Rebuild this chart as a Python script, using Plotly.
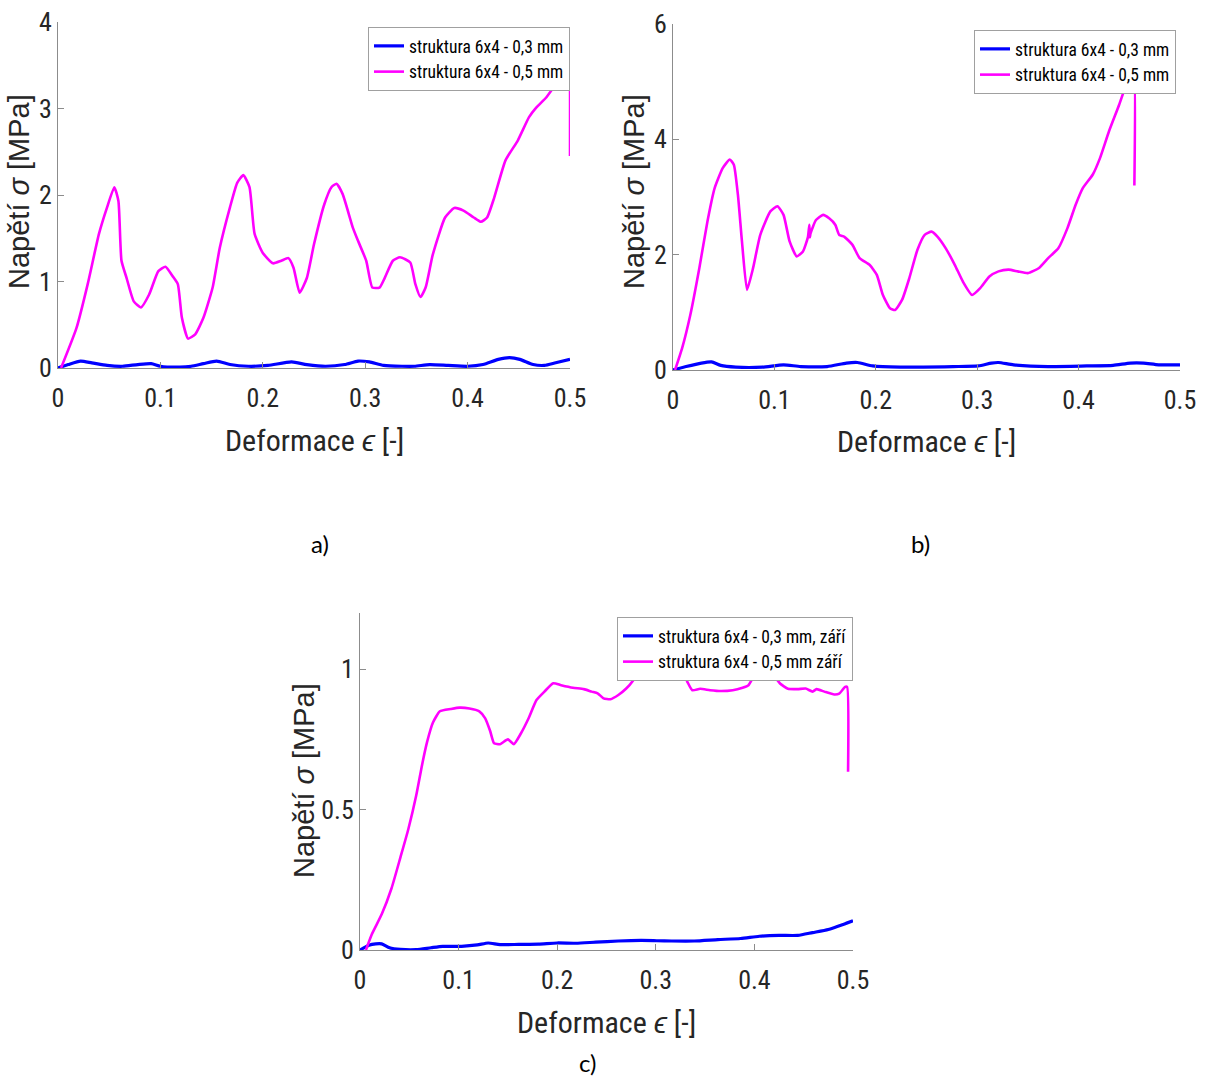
import plotly.graph_objects as go

# ---- panel a) ----
a_x_03 = [0, 0.01, 0.022, 0.033, 0.048, 0.063, 0.078, 0.091, 0.100, 0.119, 0.130, 0.142, 0.155, 0.168,
          0.186, 0.205, 0.228, 0.243, 0.261, 0.280, 0.293, 0.304, 0.318, 0.336, 0.348, 0.363, 0.381,
          0.400, 0.415, 0.430, 0.441, 0.451, 0.464, 0.475, 0.486, 0.5]
a_y_03 = [0, 0.04, 0.08, 0.06, 0.03, 0.02, 0.04, 0.05, 0.02, 0.01, 0.02, 0.05, 0.08, 0.04,
          0.02, 0.03, 0.07, 0.04, 0.02, 0.04, 0.08, 0.07, 0.03, 0.02, 0.02, 0.04, 0.03,
          0.02, 0.04, 0.10, 0.12, 0.10, 0.04, 0.03, 0.06, 0.10]
a_x_05 = [0.003, 0.018, 0.029, 0.040, 0.048, 0.055, 0.059, 0.062, 0.067, 0.074, 0.081, 0.089, 0.098,
          0.105, 0.112, 0.117, 0.121, 0.127, 0.134, 0.142, 0.151, 0.158, 0.168, 0.175, 0.181, 0.187,
          0.192, 0.200, 0.210, 0.218, 0.225, 0.230, 0.236, 0.243, 0.250, 0.260, 0.267, 0.272, 0.278,
          0.288, 0.293, 0.301, 0.307, 0.314, 0.319, 0.327, 0.334, 0.344, 0.349, 0.354, 0.359, 0.366,
          0.378, 0.387, 0.396, 0.406, 0.413, 0.419, 0.426, 0.437, 0.449, 0.460, 0.467, 0.477, 0.486,
          0.494, 0.498, 0.4995, 0.5]
a_y_05 = [0, 0.46, 0.97, 1.55, 1.86, 2.09, 1.93, 1.24, 1.04, 0.77, 0.70, 0.85, 1.12,
          1.17, 1.06, 0.97, 0.58, 0.34, 0.39, 0.58, 0.93, 1.39, 1.86, 2.14, 2.23, 2.09,
          1.55, 1.33, 1.21, 1.24, 1.27, 1.16, 0.87, 1.04, 1.43, 1.89, 2.09, 2.13, 2.01,
          1.62, 1.47, 1.24, 0.93, 0.93, 1.04, 1.24, 1.28, 1.22, 0.97, 0.82, 0.93, 1.31,
          1.74, 1.85, 1.82, 1.74, 1.69, 1.74, 1.97, 2.40, 2.63, 2.90, 3.01, 3.13, 3.29,
          3.50, 3.75, 3.85, 2.45]

# ---- panel b) ----
b_x_03 = [0, 0.013, 0.028, 0.038, 0.047, 0.062, 0.088, 0.109, 0.126, 0.152, 0.171, 0.182, 0.197,
          0.224, 0.276, 0.301, 0.314, 0.321, 0.336, 0.370, 0.408, 0.434, 0.451, 0.464, 0.479, 0.5]
b_y_03 = [0, 0.06, 0.12, 0.14, 0.08, 0.05, 0.05, 0.09, 0.06, 0.06, 0.12, 0.13, 0.07,
          0.05, 0.06, 0.07, 0.12, 0.13, 0.09, 0.06, 0.07, 0.08, 0.12, 0.12, 0.09, 0.09]
b_x_05 = [0.002, 0.009, 0.017, 0.026, 0.034, 0.041, 0.049, 0.056, 0.060, 0.064, 0.068, 0.073, 0.079,
          0.086, 0.096, 0.103, 0.109, 0.115, 0.122, 0.128, 0.133, 0.1345, 0.135, 0.1355, 0.141, 0.148,
          0.154, 0.160, 0.164, 0.169, 0.177, 0.184, 0.194, 0.201, 0.207, 0.214, 0.219, 0.226, 0.233,
          0.241, 0.248, 0.255, 0.261, 0.269, 0.278, 0.286, 0.295, 0.303, 0.312, 0.321, 0.331, 0.340,
          0.350, 0.361, 0.370, 0.380, 0.389, 0.397, 0.404, 0.414, 0.421, 0.430, 0.440, 0.447, 0.452,
          0.4545, 0.455]
b_y_05 = [0, 0.38, 0.95, 1.77, 2.58, 3.15, 3.50, 3.65, 3.56, 3.04, 2.23, 1.39, 1.77,
          2.34, 2.75, 2.84, 2.69, 2.23, 1.97, 2.05, 2.30, 2.52, 2.30, 2.36, 2.60, 2.69,
          2.63, 2.52, 2.34, 2.31, 2.17, 1.94, 1.82, 1.65, 1.30, 1.07, 1.04, 1.22, 1.59,
          2.08, 2.34, 2.40, 2.31, 2.11, 1.82, 1.53, 1.30, 1.42, 1.62, 1.71, 1.74, 1.71,
          1.68, 1.77, 1.94, 2.11, 2.46, 2.86, 3.15, 3.39, 3.67, 4.14, 4.60, 4.95, 5.15,
          5.20, 3.20]

# ---- panel c) ----
c_x_03 = [0, 0.009, 0.016, 0.022, 0.030, 0.041, 0.057, 0.072, 0.084, 0.103, 0.119, 0.130, 0.142,
          0.161, 0.181, 0.200, 0.219, 0.239, 0.262, 0.285, 0.301, 0.316, 0.339, 0.363, 0.386,
          0.405, 0.425, 0.444, 0.459, 0.475, 0.490, 0.5]
c_y_03 = [0, 0.017, 0.022, 0.022, 0.008, 0.002, 0.001, 0.008, 0.013, 0.013, 0.018, 0.025, 0.019,
          0.020, 0.021, 0.025, 0.024, 0.028, 0.032, 0.034, 0.033, 0.032, 0.032, 0.037, 0.041,
          0.049, 0.052, 0.052, 0.062, 0.073, 0.091, 0.104]
c_x_05 = [0.006, 0.012, 0.022, 0.032, 0.041, 0.049, 0.057, 0.063, 0.068, 0.074, 0.081, 0.092, 0.101,
          0.111, 0.121, 0.127, 0.132, 0.136, 0.142, 0.150, 0.156, 0.163, 0.171, 0.179, 0.187, 0.196,
          0.204, 0.216, 0.227, 0.235, 0.241, 0.247, 0.254, 0.262, 0.270, 0.277, 0.283, 0.292, 0.303,
          0.315, 0.328, 0.332, 0.337, 0.345, 0.355, 0.366, 0.378, 0.388, 0.394, 0.399, 0.407, 0.414,
          0.419, 0.426, 0.434, 0.444, 0.452, 0.459, 0.463, 0.471, 0.481, 0.486, 0.492, 0.494, 0.495]
c_y_05 = [0, 0.056, 0.127, 0.22, 0.33, 0.43, 0.55, 0.66, 0.74, 0.81, 0.85, 0.858, 0.863,
          0.86, 0.85, 0.825, 0.78, 0.736, 0.733, 0.75, 0.733, 0.77, 0.825, 0.89, 0.92, 0.95,
          0.943, 0.934, 0.929, 0.92, 0.914, 0.896, 0.893, 0.908, 0.931, 0.96, 0.996, 1.03, 1.05,
          1.04, 0.985, 0.955, 0.925, 0.93, 0.925, 0.922, 0.925, 0.934, 0.943, 0.973, 1.02, 1.03,
          0.985, 0.949, 0.93, 0.929, 0.931, 0.92, 0.929, 0.92, 0.91, 0.913, 0.937, 0.937, 0.635]

x_ticks = [0, 0.1, 0.2, 0.3, 0.4, 0.5]
x_tick_text = ["0", "0.1", "0.2", "0.3", "0.4", "0.5"]

names_ab = ["struktura 6x4 - 0,3 mm", "struktura 6x4 - 0,5 mm"]
names_c = ["struktura 6x4 - 0,3 mm, září", "struktura 6x4 - 0,5 mm září"]

x_title = "Deformace <i>ϵ</i> [-]"
y_title = "Napětí <i>σ</i> [MPa]"
panel_labels = ["a)", "b)", "c)"]

BLUE = "#0000ff"
MAGENTA = "#ff00ff"
NARROW = "Liberation Sans Narrow, Arial Narrow, Roboto Condensed, sans-serif"
SANS = "Liberation Sans, Arial, sans-serif"
LABEL_FONT = "Lato, Open Sans, sans-serif"
TXT = "#262626"
AX = "#8c8c8c"

W, H = 1207, 1077

fig = go.Figure()

panels = [
    # x-suffix, legend id, data, names, y range, y ticks, plot box in px (left, right, top, bottom)
    ("", "legend", (a_x_03, a_y_03, a_x_05, a_y_05), names_ab, [0, 4], [0, 1, 2, 3, 4],
     (58, 570, 22, 368)),
    ("2", "legend2", (b_x_03, b_y_03, b_x_05, b_y_05), names_ab, [0, 6], [0, 2, 4, 6],
     (673, 1180, 24, 370)),
    ("3", "legend3", (c_x_03, c_y_03, c_x_05, c_y_05), names_c, [0, 1.2], [0, 0.5, 1],
     (360, 853, 613, 950)),
]

# axis-title placement in px: (y-title x centre, y-title y centre, x-title y centre)
title_pos = [(19, 192, 440), (634, 192, 441), (304, 781, 1022)]
# panel caption positions in px
label_pos = [(320, 543), (920, 543), (587, 1062)]

layout_axes = {}
annotations = []
for i, (suffix, leg, (x3, y3, x5, y5), names, yr, yt, (l, r, t, b)) in enumerate(panels):
    xa = "x" + suffix
    ya = "y" + suffix
    fig.add_trace(go.Scatter(x=x3, y=y3, mode="lines", name=names[0], xaxis=xa, yaxis=ya,
                             legend=leg, line=dict(color=BLUE, width=3.2, shape="spline",
                                                   smoothing=0.6)))
    fig.add_trace(go.Scatter(x=x5, y=y5, mode="lines", name=names[1], xaxis=xa, yaxis=ya,
                             legend=leg, line=dict(color=MAGENTA, width=2.6, shape="spline",
                                                   smoothing=0.5)))
    layout_axes["xaxis" + suffix] = dict(
        domain=[l / W, r / W], range=[0, 0.5], anchor=ya, automargin=False,
        tickvals=x_ticks, ticktext=x_tick_text,
        showline=True, linecolor=AX, linewidth=1, ticks="inside", ticklen=6, tickcolor=AX,
        showgrid=False, zeroline=False, mirror=False, ticklabelstandoff=7,
        tickfont=dict(family=NARROW, size=26, color=TXT),
    )
    layout_axes["yaxis" + suffix] = dict(
        domain=[1 - b / H, 1 - t / H], range=yr, anchor=xa, automargin=False,
        tickvals=yt, ticktext=[("%g" % v) for v in yt],
        showline=True, linecolor=AX, linewidth=1, ticks="inside", ticklen=6, tickcolor=AX,
        showgrid=False, zeroline=False, mirror=False, ticklabelstandoff=0,
        tickfont=dict(family=NARROW, size=26, color=TXT),
    )
    yx, yy, xy = title_pos[i]
    annotations.append(dict(text=y_title, x=yx / W, y=1 - yy / H, xref="paper", yref="paper",
                            textangle=-90, showarrow=False, xanchor="center", yanchor="middle",
                            font=dict(family=SANS, size=29, color=TXT)))
    annotations.append(dict(text=x_title, x=(l + r) / 2 / W, y=1 - xy / H, xref="paper",
                            yref="paper", showarrow=False, xanchor="center", yanchor="middle",
                            font=dict(family=NARROW, size=30, color=TXT)))
    lx, ly = label_pos[i]
    annotations.append(dict(text=panel_labels[i], x=lx / W, y=1 - ly / H, xref="paper",
                            yref="paper", showarrow=False, xanchor="center", yanchor="middle",
                            font=dict(family=LABEL_FONT, size=24, color="black")))

legend_style = dict(bgcolor="white", bordercolor="#a0a0a0", borderwidth=1,
                    font=dict(family=NARROW, size=17.5, color="black"),
                    xanchor="right", yanchor="top", tracegroupgap=0, itemwidth=30)

fig.update_layout(
    width=W, height=H,
    margin=dict(l=0, r=0, t=0, b=0),
    paper_bgcolor="white", plot_bgcolor="white",
    showlegend=True,
    legend=dict(x=570 / W, y=1 - 27 / H, **legend_style),
    legend2=dict(x=1176 / W, y=1 - 30 / H, **legend_style),
    legend3=dict(x=853 / W, y=1 - 617 / H, **legend_style),
    annotations=annotations,
    **layout_axes,
)

fig.write_html("out.html")
